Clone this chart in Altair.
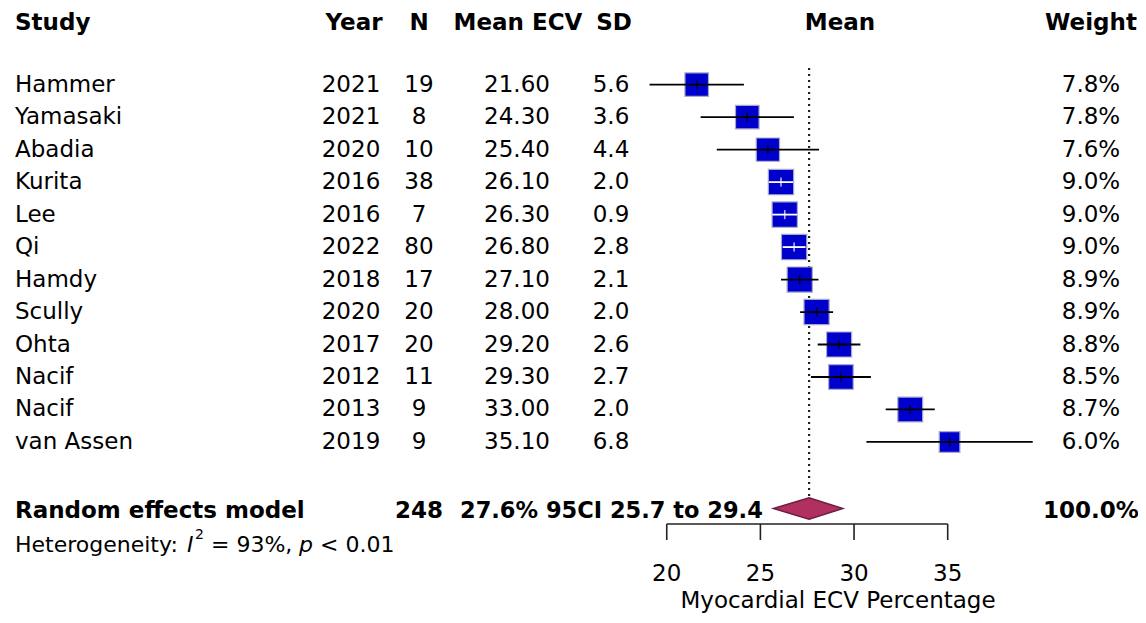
import altair as alt
import pandas as pd

# ---------------- data ----------------
study = ["Hammer", "Yamasaki", "Abadia", "Kurita", "Lee", "Qi", "Hamdy",
         "Scully", "Ohta", "Nacif", "Nacif", "van Assen"]
year = [2021, 2021, 2020, 2016, 2016, 2022, 2018, 2020, 2017, 2012, 2013, 2019]
n = [19, 8, 10, 38, 7, 80, 17, 20, 20, 11, 9, 9]
mean_ecv = [21.60, 24.30, 25.40, 26.10, 26.30, 26.80, 27.10, 28.00, 29.20, 29.30, 33.00, 35.10]
sd = [5.6, 3.6, 4.4, 2.0, 0.9, 2.8, 2.1, 2.0, 2.6, 2.7, 2.0, 6.8]
ci_lower = [19.08, 21.81, 22.67, 25.46, 25.63, 26.19, 26.10, 27.12, 28.06, 27.70, 31.69, 30.66]
ci_upper = [24.12, 26.79, 28.13, 26.74, 26.97, 27.41, 28.10, 28.88, 30.34, 30.90, 34.31, 39.54]
weight = [7.8, 7.8, 7.6, 9.0, 9.0, 9.0, 8.9, 8.9, 8.8, 8.5, 8.7, 6.0]
ci_inside_box = [False, False, False, True, True, True, False, False, False, False, False, False]

pooled_n = 248
pooled_mean = 27.6
pooled_lower = 25.7
pooled_upper = 29.4
pooled_weight = "100.0%"
axis_ticks = [20, 25, 30, 35]

# ---------------- layout ----------------
W, H = 1130, 607
FONT = "DejaVu Sans"
FS = 23
X_DOMAIN = [-15.17, 45.16]
Y_DOMAIN = [-2.361, 16.328]
xs = alt.Scale(domain=X_DOMAIN, nice=False, zero=False)
ys = alt.Scale(domain=Y_DOMAIN, nice=False, zero=False, reverse=True)

COL_STUDY = 7
COL_YEAR = 343
COL_N = 411
COL_MEAN = 509
COL_SD = 603
COL_FOREST = 832
COL_WEIGHT = 1083
COL_POOLTXT = 452

rows = list(range(len(study)))
df = pd.DataFrame(dict(row=rows, study=study, year=year, n=n, mean=mean_ecv, sd=sd,
                       lower=ci_lower, upper=ci_upper, weight=weight))
df["year_s"] = [str(v) for v in year]
df["n_s"] = [str(v) for v in n]
df["mean_s"] = [f"{v:.2f}" for v in mean_ecv]
df["sd_s"] = [f"{v:.1f}" for v in sd]
df["w_s"] = [f"{v:.1f}%" for v in weight]
df["lc"] = ["white" if v else "black" for v in ci_inside_box]

Y = alt.Y("row:Q", scale=ys, axis=None)


def text(data, field, xpx, align="center", bold=False, size=FS, style="normal", ypos=None):
    mark = alt.Chart(data).mark_text(font=FONT, fontSize=size, align=align, baseline="middle",
                                     fontWeight="bold" if bold else "normal", fontStyle=style,
                                     color="black")
    enc = dict(text=alt.Text(f"{field}:N"), x=alt.value(xpx))
    if ypos is None:
        enc["y"] = Y
    else:
        enc["y"] = alt.value(ypos)
    return mark.encode(**enc)


# header
hdr = pd.DataFrame({"row": [-1.91], "Study": ["Study"], "Year": ["Year"], "N": ["N"],
                    "MeanECV": ["Mean ECV"], "SD": ["SD"], "Mean": ["Mean"], "Weight": ["Weight"]})
header = [
    text(hdr, "Study", COL_STUDY, align="left", bold=True),
    text(hdr, "Year", COL_YEAR + 3, bold=True),
    text(hdr, "N", COL_N, bold=True),
    text(hdr, "MeanECV", COL_MEAN + 1, bold=True),
    text(hdr, "SD", COL_SD + 3, bold=True),
    text(hdr, "Mean", COL_FOREST, bold=True),
    text(hdr, "Weight", COL_WEIGHT, bold=True),
]

cols = [
    text(df, "study", COL_STUDY, align="left"),
    text(df, "year_s", COL_YEAR),
    text(df, "n_s", COL_N),
    text(df, "mean_s", COL_MEAN),
    text(df, "sd_s", COL_SD),
    text(df, "w_s", COL_WEIGHT),
]

# forest marks
squares = alt.Chart(df).mark_square(fill="#0000CD", fillOpacity=1, stroke="#A8A8CC",
                                    strokeWidth=1.2, filled=True).encode(
    x=alt.X("mean:Q", scale=xs, axis=None), y=Y,
    size=alt.Size("weight:Q", scale=alt.Scale(domain=[0, 9], range=[0, 640]), legend=None))

ci = alt.Chart(df).mark_rule(strokeWidth=1.8).encode(
    x=alt.X("lower:Q", scale=xs, axis=None), x2="upper:Q", y=Y,
    color=alt.Color("lc:N", scale=None))

est_tick = alt.Chart(df).mark_tick(orient="vertical", size=9, thickness=1.6).encode(
    x=alt.X("mean:Q", scale=xs, axis=None), y=Y, color=alt.Color("lc:N", scale=None))

ref = pd.DataFrame({"x": [pooled_mean], "y": [-0.51], "y2": [12.72]})
ref_line = alt.Chart(ref).mark_rule(strokeDash=[2, 4], strokeWidth=2.2, color="#222").encode(
    x=alt.X("x:Q", scale=xs, axis=None), y=alt.Y("y:Q", scale=ys, axis=None), y2="y2:Q")

dia = pd.DataFrame({"x": [pooled_lower, pooled_mean, pooled_upper],
                    "y": [13.05, 13.05 - 0.33, 13.05], "y2": [13.05, 13.05 + 0.33, 13.05]})
diamond = alt.Chart(dia).mark_area(fill="#B03060", stroke="#6E1E42", strokeWidth=1.5,
                                   orient="vertical", fillOpacity=1).encode(
    x=alt.X("x:Q", scale=xs, axis=None), y=alt.Y("y:Q", scale=ys, axis=None), y2="y2:Q")

# pooled row
pool = pd.DataFrame({"row": [13.12], "lab": ["Random effects model"], "n": [str(pooled_n)],
                     "txt": [f"{pooled_mean}% 95CI {pooled_lower} to {pooled_upper}"],
                     "w": [pooled_weight]})
pooled = [
    text(pool, "lab", COL_STUDY, align="left", bold=True),
    text(pool, "n", COL_N, bold=True),
    text(pool, "txt", COL_POOLTXT, align="left", bold=True, size=22.5),
    text(pool, "w", COL_WEIGHT, bold=True),
]

# heterogeneity line (mixed styles)
het = pd.DataFrame({"row": [14.17], "a": ["Heterogeneity:"], "i": ["I"], "s": ["2"],
                    "b": ["= 93%,"], "p": ["p"], "c": ["< 0.01"]})
HS = 22
hetero = [
    text(het, "a", COL_STUDY, align="left", size=HS),
    text(het, "i", 179, align="left", size=HS, style="italic"),
    text(het, "s", 187, align="left", size=14, ypos=527),
    text(het, "b", 203, align="left", size=HS),
    text(het, "p", 291, align="left", size=HS, style="italic"),
    text(het, "c", 312, align="left", size=HS),
]

# x axis drawn from the scale
tk = pd.DataFrame({"t": axis_ticks, "lab": [str(t) for t in axis_ticks]})
ax_line = alt.Chart(pd.DataFrame({"a": [axis_ticks[0]], "b": [axis_ticks[-1]]})).mark_rule(
    strokeWidth=1.6, color="#222").encode(x=alt.X("a:Q", scale=xs, axis=None), x2="b:Q",
                                          y=alt.value(516))
ax_ticks = alt.Chart(tk).mark_rule(strokeWidth=1.6, color="#222").encode(
    x=alt.X("t:Q", scale=xs, axis=None), y=alt.value(516), y2=alt.value(532))
ax_labels = alt.Chart(tk).mark_text(font=FONT, fontSize=FS, baseline="middle", color="black").encode(
    x=alt.X("t:Q", scale=xs, axis=None), y=alt.value(566), text="lab:N")
ax_title = text(pd.DataFrame({"t": ["Myocardial ECV Percentage"]}), "t", 830, ypos=593)

layers = ([ref_line, squares, ci, est_tick, diamond, ax_line, ax_ticks, ax_labels, ax_title]
          + header + cols + pooled + hetero)

chart = alt.layer(*layers).properties(
    width=W, height=H, padding=0, autosize="none", background="white"
).configure_view(stroke=None)

chart.save("out.html", embed_options={"renderer": "svg", "actions": False})
